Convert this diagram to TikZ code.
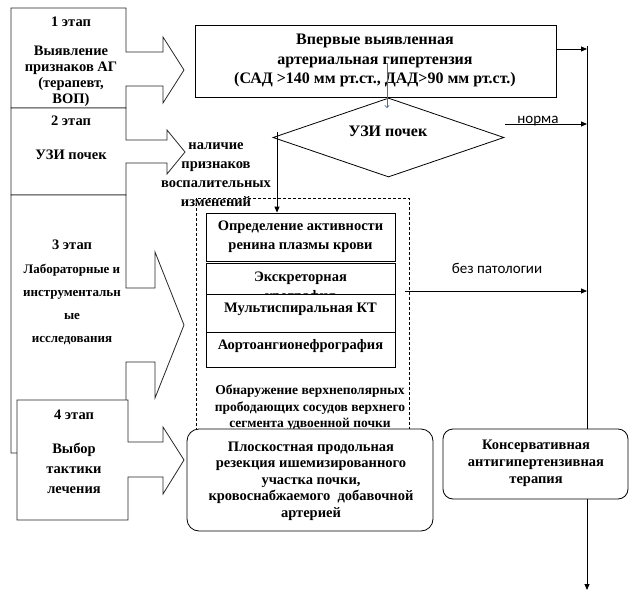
\documentclass[tikz,border=0pt]{standalone}
\usepackage{fontspec}
\setmainfont{Liberation Serif}
\newfontfamily\calib{Carlito}
\usetikzlibrary{arrows.meta,shapes.geometric}
\begin{document}
\begin{tikzpicture}[x=1pt,y=-1pt,
  stagebox/.style={draw=black!85,line width=0.8pt,fill=white},
  plainbox/.style={draw=black,line width=0.8pt,fill=white,inner sep=0},
  roundbox/.style={draw=black,line width=0.8pt,fill=white,rounded corners=12pt,inner sep=0},
  arr/.style={line width=0.8pt,-{Triangle[length=6pt,width=5pt]}},
  txt/.style={font=\bfseries\fontsize{14.5}{16}\selectfont,align=center,inner sep=0},
  bigtxt/.style={font=\bfseries\fontsize{16}{19.5}\selectfont,align=center,inner sep=0},
  smalltxt/.style={font=\bfseries\fontsize{13.5}{16.5}\selectfont,align=center,inner sep=0},
  sanstxt/.style={font=\calib\fontsize{15}{15}\selectfont,inner sep=0}]
\useasboundingbox (0,0) rectangle (635,597);

% stage shapes
\draw[stagebox] (11,8) -- (126,8) -- (126,52) -- (163,52) -- (163,37) -- (184,70) -- (163,103) -- (163,86) -- (126,86) -- (126,108) -- (11,108) -- cycle;
\draw[stagebox] (11,108) -- (126,108) -- (126,140) -- (167,140) -- (167,130) -- (185,152) -- (167,174) -- (167,163) -- (126,163) -- (126,195) -- (11,195) -- cycle;
\draw[stagebox] (11,195) -- (126,195) -- (126,288) -- (155,288) -- (155,252) -- (184,325) -- (155,398) -- (155,362) -- (126,362) -- (126,453) -- (11,453) -- cycle;
\draw[stagebox] (17,400) -- (128,400) -- (128,442) -- (163,442) -- (163,427) -- (184,460) -- (163,494) -- (163,477) -- (128,477) -- (128,520) -- (17,520) -- cycle;

% stage texts
\node[txt] (s1h) at (71,22) {1 этап};
\node[txt] (s1t) at (71,76) {Выявление\\признаков АГ\\(терапевт,\\ВОП)};
\node[txt] (s2h) at (71,121) {2 этап};
\node[txt] (s2t) at (71,155) {УЗИ почек};
\node[txt] (s3h) at (72,245) {3 этап};
\node[smalltxt,font=\bfseries\fontsize{13}{23}\selectfont] (s3t) at (72,304.5) {Лабораторные и\\инструментальн\\ые\\исследования};
\node[txt] (s4h) at (74,415) {4 этап};
\node[txt,font=\bfseries\fontsize{14.5}{20}\selectfont] (s4t) at (74,468) {Выбор\\тактики\\лечения};

% right vertical line
\coordinate (vtop) at (587,46);
\coordinate (vbot) at (587,590);
\draw[arr] (vtop) -- (vbot);

% top box
\node[plainbox,minimum width=361pt,minimum height=72pt] (top) at (375.5,61) {};
\node[bigtxt] (toptxt) at (375,60.5) {Впервые выявленная\\артериальная гипертензия\\(САД >140 мм рт.ст., ДАД>90 мм рт.ст.)};
\coordinate (t1) at (587,49);
\draw[arr] (top.east |- t1) -- (t1);

% diamond
\node[draw=black,line width=0.8pt,diamond,aspect=2.92,minimum width=231pt,minimum height=79pt,inner sep=0] (dia) at (388.5,137.5) {};
\node[bigtxt] (diatxt) at (388,131) {УЗИ почек};

% blue arrow
\coordinate (b1) at (387,63);
\coordinate (b2) at (387,108);
\draw[draw={rgb,255:red,70;green,110;blue,160},line width=0.6pt,-{To[length=3pt,width=5pt]}] (b1) -- (b2);

% norma
\coordinate (n1) at (505,124);
\coordinate (n2) at (587,124);
\node[sanstxt] (normatxt) at (538,121) {норма};
\draw[arr] (n1) -- (n2);

% inflammation text
\node[txt,font=\bfseries\fontsize{14.5}{19}\selectfont] (infl) at (216,174.5) {наличие\\признаков\\воспалительных\\изменений};

% dashed group
\draw[line width=0.7pt,dash pattern=on 3pt off 2pt] (196,198) rectangle (409,440);

% inner boxes
\node[plainbox,minimum width=189pt,minimum height=48pt] (bx1) at (300.5,237) {};
\node[txt,font=\bfseries\fontsize{14.5}{19}\selectfont] (bx1t) at (300.5,236.5) {Определение активности\\ренина плазмы крови};
\node[plainbox,minimum width=189pt,minimum height=40pt] (bx2) at (300.5,283) {};
\node[txt,font=\bfseries\fontsize{14.5}{19}\selectfont] (bx2t) at (300.5,288) {Экскреторная\\урография};
\node[plainbox,minimum width=189pt,minimum height=38pt] (bx3) at (300.5,313) {};
\node[txt] (bx3t) at (300.5,309) {Мультиспиральная КТ};
\node[plainbox,minimum width=189pt,minimum height=35pt] (bx4) at (300.5,349.5) {};
\node[txt] (bx4t) at (300.5,346) {Аортоангионефрография};

% arrow from diamond to box1
\coordinate (d1) at (277,132);
\draw[arr] (d1) -- (d1 |- bx1.north);

\node[smalltxt] (found) at (310,408) {Обнаружение верхнеполярных\\прободающих сосудов верхнего\\сегмента удвоенной почки};

% bez patologii
\node[sanstxt] (bpt) at (497,268) {без патологии};
\coordinate (p1) at (405,291);
\coordinate (p2) at (587,291);
\draw[arr] (p1) -- (p2);

% rounded boxes
\node[roundbox,minimum width=246pt,minimum height=102pt] (r1) at (310,480) {};
\node[txt,font=\bfseries\fontsize{14.5}{16.5}\selectfont] (r1t) at (311,481) {Плоскостная продольная\\резекция ишемизированного\\участка почки,\\кровоснабжаемого~~добавочной\\артерией};
\node[roundbox,minimum width=185pt,minimum height=70pt,rounded corners=10pt] (r2) at (535.5,464) {};
\node[txt,font=\bfseries\fontsize{14.5}{17}\selectfont] (r2t) at (536,463) {Консервативная\\антигипертензивная\\терапия};
\end{tikzpicture}
\end{document}
